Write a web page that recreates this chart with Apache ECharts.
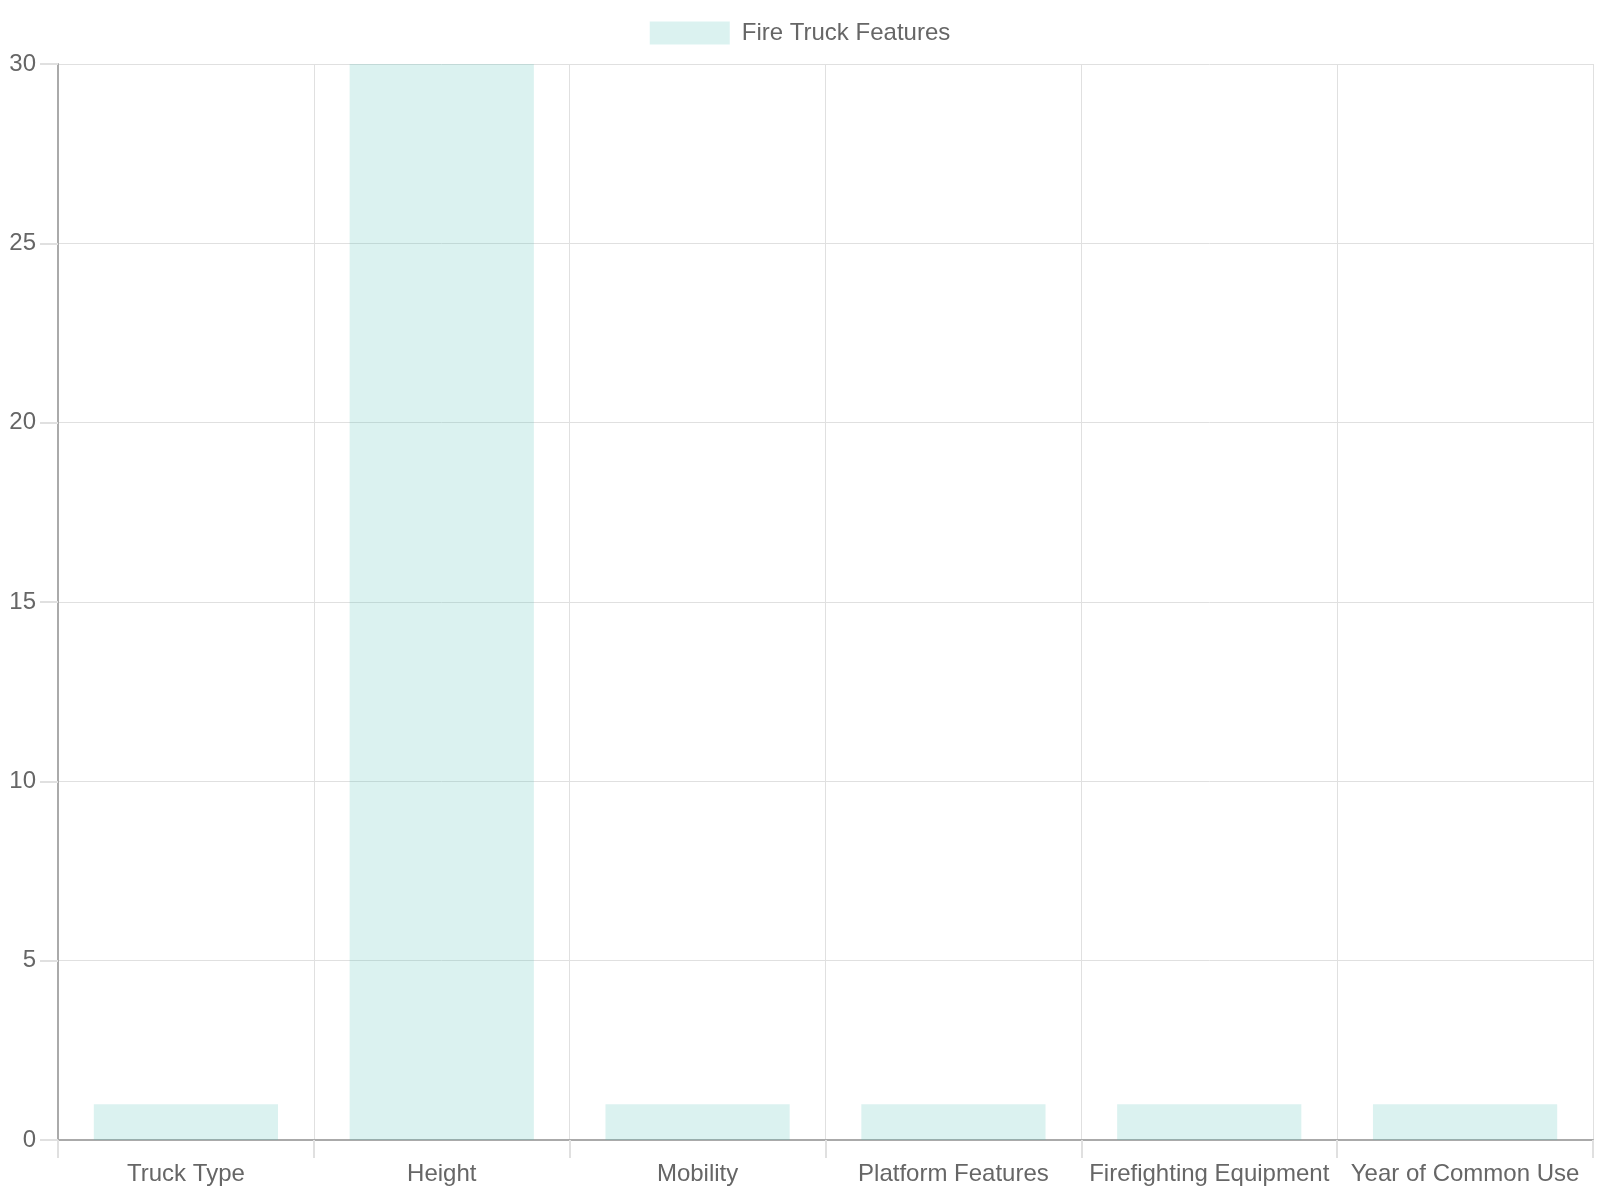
<!DOCTYPE html>
<html>
<head>
    <meta charset="utf-8">
    <title>Fire Truck Features</title>
    <script type="text/javascript" src="https://cdn.jsdelivr.net/npm/echarts@6/dist/echarts.min.js"></script>
    <style>
        html, body { margin: 0; padding: 0; background: #fff; }
    </style>
</head>
<body>

<div id="main" style="width: 1600px;height:1200px;"></div>
<script type="text/javascript">
    // 数据
    var categories = ['Truck Type', 'Height', 'Mobility', 'Platform Features', 'Firefighting Equipment', 'Year of Common Use'];
    var featureValues = [1, 30, 1, 1, 1, 1];
    var seriesName = 'Fire Truck Features';
    var yTicks = { min: 0, max: 30, interval: 5 };

    var myChart = echarts.init(document.getElementById('main'));

    var font = '"Liberation Sans", Arial, sans-serif';

    option = {
        animation: false,
        textStyle: { fontFamily: font },
        legend: {
            top: 16,
            left: 'center',
            itemWidth: 80,
            itemHeight: 23,
            itemGap: 10,
            icon: 'rect',
            textStyle: { fontSize: 24, color: '#666', fontFamily: font, padding: [0, 0, 0, 7] },
            data: [seriesName]
        },
        grid: {
            left: 58,
            right: 7,
            top: 64,
            bottom: 60,
            containLabel: false
        },
        xAxis: {
            type: 'category',
            data: categories,
            boundaryGap: true,
            axisLine: { lineStyle: { color: '#aaa', width: 2 } },
            axisTick: { show: true, length: 18, lineStyle: { color: '#e0e0e0', width: 2 } },
            axisLabel: { fontSize: 24, color: '#666', margin: 22, interval: 0, fontFamily: font },
            splitLine: { show: true, lineStyle: { color: '#e0e0e0', width: 1 } }
        },
        yAxis: {
            type: 'value',
            min: yTicks.min,
            max: yTicks.max,
            interval: yTicks.interval,
            axisLine: { show: true, lineStyle: { color: '#aaa', width: 2 } },
            axisTick: { show: true, length: 18, lineStyle: { color: '#e0e0e0', width: 2 } },
            axisLabel: { fontSize: 24, color: '#666', margin: 22, fontFamily: font },
            splitLine: { show: true, lineStyle: { color: '#e0e0e0', width: 1 } }
        },
        series: [{
            name: seriesName,
            type: 'bar',
            data: featureValues,
            barWidth: '72%',
            itemStyle: { color: 'rgba(75, 192, 180, 0.2)' }
        }]
    };

    myChart.setOption(option);
</script>

</body>
</html>
